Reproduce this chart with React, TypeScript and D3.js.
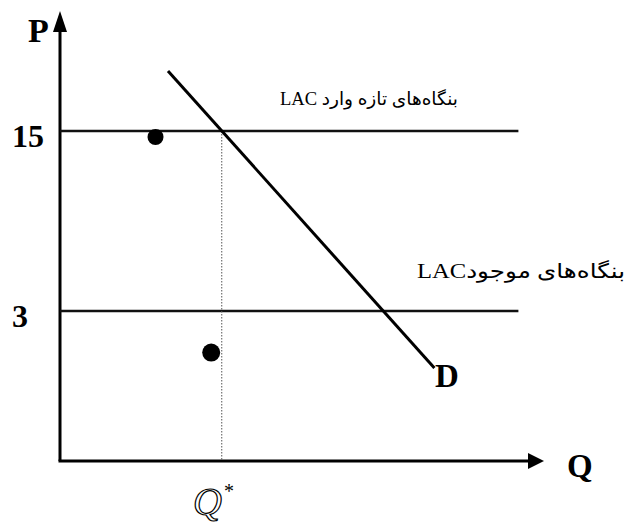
import React from "react";
import * as d3 from "d3";

// schematic values (P on the vertical axis, Q on the horizontal)
const priceTicks = [15, 3];
const priceTickLabels = ["15", "3"];
const lacLevels = [15, 3];
const lacLabels = ["بنگاه‌های تازه وارد LAC", "بنگاه‌های موجودLAC"];
const lacEndQ = 9.55;
const demandQ = [2.25, 7.8];
const demandP = [19, -0.8];
const dotQ = [1.99, 3.15];
const dotP = [14.6, 0.23];
const dotR = [8, 9];
const qStar = 3.37;

const qDomain = [0, 10];
const pDomain = [-7, 23];

const W = 626;
const H = 524;

const App = () => {
  const x = d3.scaleLinear().domain(qDomain).range([60, 540]);
  const y = d3.scaleLinear().domain(pDomain).range([461, 11]);

  const x0 = x(qDomain[0]);
  const y0 = y(pDomain[0]);
  const xEnd = x(qDomain[1]);
  const yEnd = y(pDomain[1]);

  const demandLine = d3
    .line<number>()
    .x((d, i) => x(demandQ[i]))
    .y((d) => y(d));

  const serif = "'Liberation Serif', 'Times New Roman', serif";
  const persian = "'Liberation Serif', 'DejaVu Sans', 'Noto Sans', sans-serif";

  return (
    <svg
      width={W}
      height={H}
      style={{ position: "absolute", left: 0, top: 0, background: "#fff" }}
    >
      {/* axes */}
      <line x1={x0} y1={y0} x2={x0} y2={yEnd + 14} stroke="#000" strokeWidth={3} />
      <path d={`M${x0},${yEnd} L${x0 - 7},${yEnd + 21} L${x0 + 7},${yEnd + 21} Z`} fill="#000" />
      <line x1={x0 - 1.5} y1={y0} x2={xEnd} y2={y0} stroke="#000" strokeWidth={3} />
      <path d={`M${xEnd + 4},${y0} L${xEnd - 12},${y0 - 8} L${xEnd - 12},${y0 + 8} Z`} fill="#000" />

      {/* LAC lines */}
      {lacLevels.map((p, i) => (
        <line
          key={"lac" + i}
          x1={x0}
          x2={x(lacEndQ)}
          y1={y(p)}
          y2={y(p)}
          stroke="#111"
          strokeWidth={2.5}
        />
      ))}

      {/* Q* guide */}
      <line
        x1={x(qStar)}
        x2={x(qStar)}
        y1={y(lacLevels[0])}
        y2={y0}
        stroke="#555"
        strokeWidth={1}
        strokeDasharray="1.5,1.5"
      />

      {/* demand */}
      <path d={demandLine(demandP) || ""} fill="none" stroke="#000" strokeWidth={3} />

      {/* dots */}
      {dotQ.map((q, i) => (
        <circle key={"dot" + i} cx={x(q)} cy={y(dotP[i])} r={dotR[i]} fill="#000" />
      ))}

      {/* tick labels */}
      {priceTicks.map((p, i) => (
        <text
          key={"t" + i}
          x={12}
          y={y(p) + 16}
          fontFamily={serif}
          fontWeight="bold"
          fontSize={32}
        >
          {priceTickLabels[i]}
        </text>
      ))}

      {/* axis names */}
      <text x={28} y={42} fontFamily={serif} fontWeight="bold" fontSize={34}>
        P
      </text>
      <text x={567} y={477} fontFamily={serif} fontWeight="bold" fontSize={33}>
        Q
      </text>
      <text x={435} y={387} fontFamily={serif} fontWeight="bold" fontSize={33}>
        D
      </text>

      {/* Q* */}
      <text
        x={193}
        y={515}
        fontFamily={serif}
        fontStyle="italic"
        fontSize={40}
        fill="#fff"
        stroke="#000"
        strokeWidth={1.2}
      >
        Q
      </text>
      <text x={224} y={498} fontFamily={serif} fontSize={20}>
        *
      </text>

      {/* LAC labels */}
      <text
        x={458}
        y={105}
        direction="rtl"
        textAnchor="start"
        fontFamily={persian}
        fontSize={18}
        textLength={178}
        lengthAdjust="spacingAndGlyphs"
      >
        {lacLabels[0]}
      </text>
      <text
        x={625}
        y={278}
        direction="rtl"
        textAnchor="start"
        fontFamily={persian}
        fontSize={20}
        textLength={208}
        lengthAdjust="spacingAndGlyphs"
      >
        {lacLabels[1]}
      </text>
    </svg>
  );
};

export default App;
